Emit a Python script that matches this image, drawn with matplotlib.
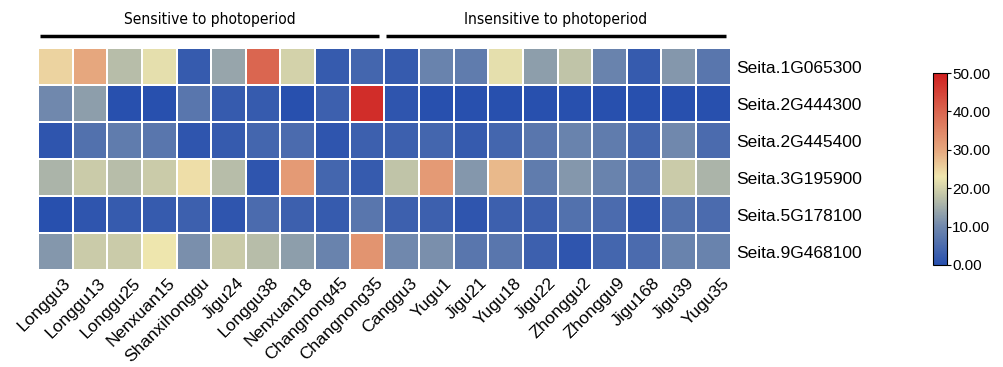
import numpy as np
import matplotlib
matplotlib.use("Agg")
import matplotlib.pyplot as plt
import matplotlib.transforms as mtransforms
from matplotlib.colors import LinearSegmentedColormap

# data
varieties = ["Longgu3", "Longgu13", "Longgu25", "Nenxuan15", "Shanxihonggu", "Jigu24",
             "Longgu38", "Nenxuan18", "Changnong45", "Changnong35",
             "Canggu3", "Yugu1", "Jigu21", "Yugu18", "Jigu22", "Zhonggu2",
             "Zhonggu9", "Jigu168", "Jigu39", "Yugu35"]
genes = ["Seita.1G065300", "Seita.2G444300", "Seita.2G445400",
         "Seita.3G195900", "Seita.5G178100", "Seita.9G468100"]

g1G065300 = [25, 30, 17, 22, 2, 14, 40, 20, 2, 4, 2, 9, 8, 22, 13, 18, 9, 2, 12, 7]
g2G444300 = [10, 13, 0, 0, 7, 2, 2, 0, 3, 48, 1, 0, 0, 0, 0, 0, 0, 0, 0, 0]
g2G445400 = [1, 6, 8, 7, 1, 2, 4, 5, 1, 3, 3, 4, 2, 4, 7, 9, 8, 4, 10, 5]
g3G195900 = [16, 19, 17, 19, 24, 17, 1, 32, 4, 2, 18, 32, 12, 28, 8, 12, 9, 7, 19, 16]
g5G178100 = [0, 1, 2, 2, 3, 1, 5, 3, 2, 7, 3, 3, 1, 3, 3, 6, 5, 1, 6, 5]
g9G468100 = [12, 19, 19, 23, 11, 19, 17, 13, 9, 33, 10, 11, 7, 7, 3, 1, 4, 5, 9, 9]

groups = ["Sensitive to photoperiod", "Insensitive to photoperiod"]
group_sizes = [10, 10]

vmin, vmax = 0, 50
cbar_ticks = [0, 10, 20, 30, 40, 50]

values = np.array([g1G065300, g2G444300, g2G445400, g3G195900, g5G178100, g9G468100], dtype=float)

cmap = LinearSegmentedColormap.from_list("heat", [
    (0.0, "#2850ae"),
    (0.2, "#7088ad"),
    (0.36, "#c0c4a8"),
    (0.46, "#efe6ae"),
    (0.6, "#e6a77e"),
    (0.8, "#da6650"),
    (1.0, "#cf1f1f"),
])

plt.rcParams['font.family'] = ['Liberation Sans', 'DejaVu Sans']

fig = plt.figure(figsize=(10.04, 3.67), dpi=100)
ax = fig.add_axes([0.0378, 0.264, 0.690, 0.605])

mesh = ax.pcolormesh(values, cmap=cmap, vmin=vmin, vmax=vmax,
                     edgecolors="white", linewidth=1.2)
ax.set_xlim(0, len(varieties))
ax.set_ylim(len(genes), 0)

# column labels: rotated, nudged a little right of the cell centre
ax.set_xticks([])
shift = ax.transData + mtransforms.ScaledTranslation(8 / 100, -5 / 100, fig.dpi_scale_trans)
for i, name in enumerate(varieties):
    ax.text(i + 0.5, len(genes), name, transform=shift, rotation=45, ha="right", va="top",
            rotation_mode="anchor", fontsize=12.5)

ax.set_yticks(np.arange(len(genes)) + 0.5)
ax.set_yticklabels(genes, fontsize=12.5)
ax.yaxis.tick_right()
ax.tick_params(length=0, pad=4)
for s in ax.spines.values():
    s.set_visible(False)

# group headers with lines
start = 0
for name, n in zip(groups, group_sizes):
    ax.plot([start + 0.06, start + n - 0.15], [-0.33, -0.33], color="black",
            linewidth=2.5, clip_on=False, solid_capstyle="butt")
    ax.text(start + n / 2 - 0.05, -0.76, name, ha="center", va="center",
            fontsize=11.2, family=['DejaVu Sans'], fontstretch="condensed")
    start += n

cax = fig.add_axes([0.929, 0.278, 0.014, 0.523])
cb = fig.colorbar(mesh, cax=cax, ticks=cbar_ticks)
cb.ax.set_yticklabels(["%.2f" % t for t in cbar_ticks], fontsize=11)
cb.outline.set_linewidth(0.8)
cb.ax.tick_params(length=3, width=0.8, pad=1)

fig.savefig("out.png", dpi=100)
